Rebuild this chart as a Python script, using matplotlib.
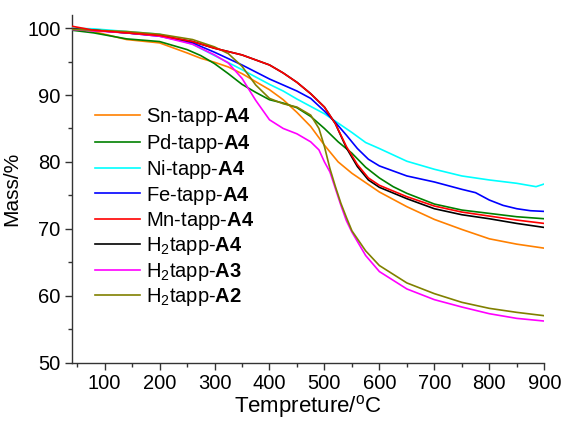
import matplotlib
matplotlib.use("Agg")
import matplotlib.pyplot as plt
from matplotlib.ticker import MultipleLocator

plt.rcParams['font.family'] = ['Liberation Sans', 'DejaVu Sans']
plt.rcParams['mathtext.fontset'] = 'custom'
plt.rcParams['mathtext.rm'] = 'Liberation Sans'
plt.rcParams['mathtext.it'] = 'Liberation Sans:italic'
plt.rcParams['mathtext.bf'] = 'Liberation Sans:bold'

# curve data (temperature in C, mass in %)
t_sn = [40, 80, 140, 200, 250, 275, 300, 325, 350, 375, 400, 425, 450, 475, 500, 525, 550, 575, 600, 650, 700, 750, 800, 850, 900]
m_sn = [100.0, 99.5, 98.3, 97.8, 96.3, 95.5, 94.9, 94.2, 93.2, 92.0, 90.8, 89.3, 87.4, 85.3, 82.5, 80.0, 78.3, 76.9, 75.5, 73.3, 71.4, 69.9, 68.5, 67.7, 67.1]

t_pd = [40, 80, 140, 200, 250, 275, 300, 325, 350, 375, 400, 425, 450, 475, 500, 525, 550, 575, 600, 625, 650, 700, 750, 800, 850, 900]
m_pd = [99.7, 99.3, 98.4, 98.0, 96.8, 95.9, 94.7, 93.2, 91.6, 90.4, 89.3, 88.8, 88.1, 86.8, 85.0, 83.0, 81.3, 79.2, 77.6, 76.3, 75.3, 73.7, 72.8, 72.3, 71.8, 71.5]

t_ni = [40, 80, 140, 200, 260, 300, 350, 400, 425, 450, 475, 500, 525, 550, 575, 600, 650, 700, 750, 800, 850, 885, 900]
m_ni = [100.0, 99.9, 99.5, 99.1, 97.6, 95.9, 93.8, 91.6, 90.6, 89.4, 88.3, 87.2, 85.8, 84.4, 82.9, 82.0, 80.1, 78.9, 77.9, 77.3, 76.8, 76.3, 76.7]

t_fe = [40, 80, 140, 200, 260, 300, 350, 400, 425, 450, 475, 500, 520, 540, 560, 580, 600, 650, 700, 750, 775, 800, 825, 850, 875, 900]
m_fe = [99.8, 99.7, 99.3, 98.8, 97.8, 96.4, 94.5, 92.4, 91.5, 90.6, 89.5, 87.6, 85.9, 84.0, 82.0, 80.4, 79.4, 77.9, 77.0, 75.9, 75.4, 74.3, 73.5, 73.0, 72.7, 72.6]

t_mn = [40, 80, 140, 200, 260, 300, 350, 400, 425, 450, 475, 500, 520, 540, 560, 580, 600, 650, 700, 750, 800, 850, 900]
m_mn = [100.3, 99.7, 99.3, 98.9, 98.0, 97.0, 96.0, 94.5, 93.3, 91.9, 90.2, 88.2, 85.7, 82.3, 79.6, 77.6, 76.5, 74.8, 73.4, 72.5, 71.9, 71.3, 70.8]

t_h2a4 = [40, 80, 140, 200, 260, 300, 350, 400, 425, 450, 475, 500, 520, 540, 560, 580, 600, 650, 700, 750, 800, 850, 900]
m_h2a4 = [99.9, 99.7, 99.3, 98.9, 98.0, 97.0, 96.0, 94.5, 93.3, 91.9, 90.2, 88.2, 85.7, 82.1, 79.3, 77.3, 76.2, 74.5, 73.0, 72.1, 71.5, 70.8, 70.2]

t_h2a3 = [40, 80, 140, 200, 260, 300, 325, 350, 375, 400, 425, 450, 475, 490, 500, 510, 520, 530, 540, 550, 575, 600, 650, 700, 750, 800, 850, 900]
m_h2a3 = [99.8, 99.6, 99.3, 98.8, 97.6, 96.0, 94.8, 92.5, 89.2, 86.3, 85.0, 84.2, 83.0, 81.8, 80.0, 78.5, 76.0, 73.5, 71.2, 69.5, 66.0, 63.6, 61.0, 59.4, 58.3, 57.3, 56.6, 56.2]

t_h2a2 = [40, 80, 140, 200, 260, 300, 325, 350, 375, 400, 425, 450, 475, 490, 500, 510, 520, 530, 540, 550, 575, 600, 650, 700, 750, 800, 850, 900]
m_h2a2 = [99.8, 99.7, 99.5, 99.1, 98.3, 97.2, 96.2, 94.3, 91.5, 89.5, 88.7, 88.2, 87.0, 85.0, 82.3, 79.0, 76.3, 73.8, 71.7, 69.7, 66.7, 64.5, 61.9, 60.3, 59.0, 58.1, 57.5, 57.0]

labels = ['Sn-tapp-$\\mathbf{A4}$', 'Pd-tapp-$\\mathbf{A4}$', 'Ni-tapp-$\\mathbf{A4}$',
          'Fe-tapp-$\\mathbf{A4}$', 'Mn-tapp-$\\mathbf{A4}$', 'H$_2$tapp-$\\mathbf{A4}$',
          'H$_2$tapp-$\\mathbf{A3}$', 'H$_2$tapp-$\\mathbf{A2}$']
colors = ['#FF8000', '#008000', '#00FFFF', '#0000FF', '#FF0000', '#000000', '#FF00FF', '#808000']
series = [(t_sn, m_sn), (t_pd, m_pd), (t_ni, m_ni), (t_fe, m_fe),
          (t_mn, m_mn), (t_h2a4, m_h2a4), (t_h2a3, m_h2a3), (t_h2a2, m_h2a2)]
zorders = [3, 3, 3, 3, 4, 3, 3, 3]

fig = plt.figure(figsize=(5.64, 4.23), dpi=100)
ax = fig.add_axes([0.127, 0.143, 0.838, 0.822])

for (t, m), lab, c, z in zip(series, labels, colors, zorders):
    ax.plot(t, m, color=c, lw=1.2, label=lab, zorder=z)

ax.set_xlim(40, 900)
ax.set_ylim(50, 102)
ax.xaxis.set_major_locator(MultipleLocator(100))
ax.xaxis.set_minor_locator(MultipleLocator(50))
ax.yaxis.set_major_locator(MultipleLocator(10))
ax.yaxis.set_minor_locator(MultipleLocator(5))
ax.set_xticks(range(100, 901, 100))

for s in ['top', 'right']:
    ax.spines[s].set_visible(False)
for s in ['left', 'bottom']:
    ax.spines[s].set_color('#333333')
    ax.spines[s].set_linewidth(1.0)
ax.tick_params(which='major', direction='out', length=5, width=1, colors='#333333', labelcolor='black', labelsize=14.5, pad=3)
ax.tick_params(which='minor', direction='out', length=3, width=1, colors='#333333')

ax.set_xlabel('Tempreture/$^\\mathrm{o}$C', fontsize=16, labelpad=0)
ax.set_ylabel('Mass/%', fontsize=15, labelpad=4)

ax.legend(loc='upper left', bbox_to_anchor=(0.05, 0.737), frameon=False, fontsize=14.5,
          handlelength=2.2, handletextpad=0.3, labelspacing=0.17, borderaxespad=0, borderpad=0)

fig.savefig('out.png', dpi=100)
